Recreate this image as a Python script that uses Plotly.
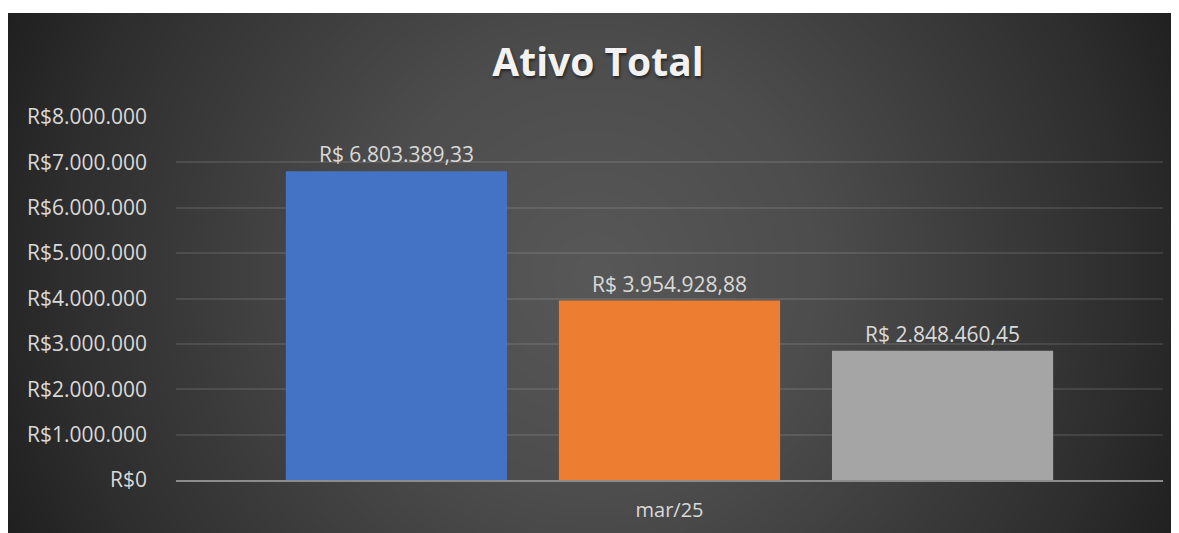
import base64
import struct
import zlib

import numpy as np
import plotly.graph_objects as go

# ---------------- data ----------------
categories = ["mar/25"]
series_names = ["Série 1", "Série 2", "Série 3"]
series_values = [6803389.33, 3954928.88, 2848460.45]
series_colors = ["#4472C4", "#ED7D31", "#A5A5A5"]
y_tick_values = [0, 1000000, 2000000, 3000000, 4000000, 5000000, 6000000, 7000000, 8000000]
y_tick_text = ["R$" + f"{v:,.0f}".replace(",", ".") for v in y_tick_values]
title_text = "Ativo Total"

# ---------------- layout constants (page body adds an 8px offset) ----------------
W, H = 1171, 525
M_L, M_R, M_T, M_B = 168, 16, 109, 53
CHART_X0, CHART_Y0 = 0, 5          # dark chart-area origin (px, figure coords)
FONT = "Open Sans"
TXT = "#D9D9D9"

plot_w = W - M_L - M_R
plot_h = H - M_T - M_B


def png_data_uri(arr):
    h, w, _ = arr.shape
    raw = b"".join(b"\x00" + arr[i].tobytes() for i in range(h))

    def chunk(tag, data):
        return (struct.pack(">I", len(data)) + tag + data
                + struct.pack(">I", zlib.crc32(tag + data) & 0xFFFFFFFF))

    png = (b"\x89PNG\r\n\x1a\n"
           + chunk(b"IHDR", struct.pack(">IIBBBBB", w, h, 8, 2, 0, 0, 0))
           + chunk(b"IDAT", zlib.compress(raw, 9))
           + chunk(b"IEND", b""))
    return "data:image/png;base64," + base64.b64encode(png).decode()


# radial gradient background for the chart area
bg_w, bg_h = W - CHART_X0, H - CHART_Y0
yy, xx = np.mgrid[0:bg_h, 0:bg_w].astype(float)
cx, cy = bg_w / 2.0, bg_h / 2.0
d = np.sqrt((xx - cx) ** 2 + (yy - cy) ** 2) / np.sqrt(cx ** 2 + cy ** 2)
g = np.interp(d, [0.0, 0.35, 0.83, 1.0], [88, 77, 46, 32])
g = np.floor(g).astype(np.uint8)
bg = np.stack([g, g, g], axis=-1)
bg_uri = png_data_uri(bg)

fig = go.Figure()
for name, val, col in zip(series_names, series_values, series_colors):
    fig.add_trace(go.Bar(
        x=categories, y=[val], name=name,
        marker=dict(color=col, line=dict(width=0)),
        texttemplate="R$ %{y:,.2f}",
        textposition="outside",
        textfont=dict(family=FONT, size=21, color=TXT),
        cliponaxis=False,
    ))

fig.update_layout(
    width=W, height=H,
    autosize=False,
    margin=dict(l=M_L, r=M_R, t=M_T, b=M_B, pad=0, autoexpand=False),
    paper_bgcolor="#FFFFFF",
    plot_bgcolor="rgba(0,0,0,0)",
    barmode="group",
    bargap=0.17,
    bargroupgap=0.19,
    showlegend=False,
    separators=",.",
    title=dict(
        text="<b>" + title_text + "</b>",
        font=dict(family=FONT, size=39, color="#F2F2F2",
                  shadow="1px 2px 3px rgba(0,0,0,0.55)"),
        x=590 / W, xanchor="center",
        y=1 - 54 / H, yanchor="middle", yref="container",
    ),
    images=[dict(
        source=bg_uri, xref="paper", yref="paper",
        x=(CHART_X0 - M_L) / plot_w, y=(H - M_B - CHART_Y0) / plot_h,
        sizex=bg_w / plot_w, sizey=bg_h / plot_h,
        xanchor="left", yanchor="top", sizing="stretch", layer="below",
    )],
)

fig.update_yaxes(
    range=[0, 8000000],
    tickmode="array", tickvals=y_tick_values, ticktext=y_tick_text,
    tickfont=dict(family=FONT, size=21, color=TXT),
    showgrid=True, gridcolor="rgba(255,255,255,0.10)", gridwidth=1.5,
    zeroline=False, showline=False, ticks="",
    ticklabelstandoff=28, automargin=False,
)
fig.update_xaxes(
    tickfont=dict(family=FONT, size=20, color=TXT),
    showline=True, linecolor="#8C8C8C", linewidth=2,
    showgrid=False, ticks="", ticklabelstandoff=11, automargin=False,
)

fig.write_html("out.html")
